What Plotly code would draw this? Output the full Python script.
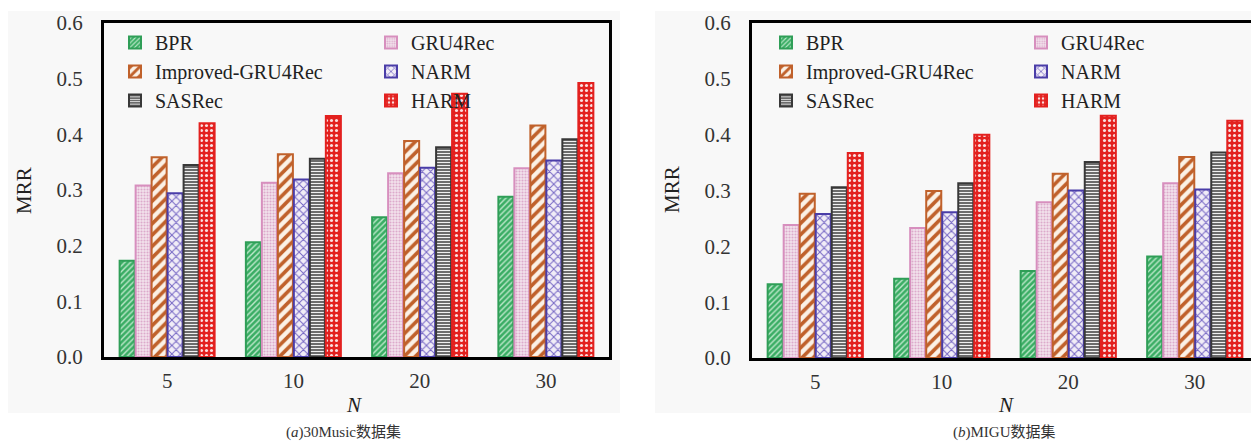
import plotly.graph_objects as go

categories = ["5", "10", "20", "30"]
methods = ["BPR", "GRU4Rec", "Improved-GRU4Rec", "NARM", "SASRec", "HARM"]

music_bpr = [0.173, 0.206, 0.251, 0.288]
music_gru = [0.308, 0.313, 0.330, 0.339]
music_imp = [0.359, 0.364, 0.388, 0.416]
music_narm = [0.294, 0.319, 0.340, 0.353]
music_sas = [0.345, 0.356, 0.377, 0.391]
music_harm = [0.420, 0.433, 0.473, 0.492]

migu_bpr = [0.132, 0.142, 0.156, 0.182]
migu_gru = [0.238, 0.233, 0.279, 0.313]
migu_imp = [0.294, 0.299, 0.330, 0.360]
migu_narm = [0.258, 0.261, 0.300, 0.302]
migu_sas = [0.306, 0.313, 0.351, 0.368]
migu_harm = [0.367, 0.400, 0.434, 0.425]

y_ticks = [0.0, 0.1, 0.2, 0.3, 0.4, 0.5, 0.6]

music = [music_bpr, music_gru, music_imp, music_narm, music_sas, music_harm]
migu = [migu_bpr, migu_gru, migu_imp, migu_narm, migu_sas, migu_harm]

styles = {
    "BPR": dict(line="#2f9e57", bg="#3aad64", fg="#bfe8cc", shape="/", size=4, sol=0.35),
    "GRU4Rec": dict(line="#d78fbe", bg="#f3e3ed", fg="#dcaacb", shape=".", size=3, sol=0.4),
    "Improved-GRU4Rec": dict(line="#c0612b", bg="#fbf1e6", fg="#c0612b", shape="/", size=8, sol=0.45),
    "NARM": dict(line="#4a3da8", bg="#f1edf7", fg="#7566c4", shape="x", size=6, sol=0.3),
    "SASRec": dict(line="#383838", bg="#505050", fg="#f0f0f0", shape="-", size=3, sol=0.45),
    "HARM": dict(line="#e3211f", bg="#e3211f", fg="#fbe0e0", shape=".", size=5, sol=0.3),
}

FONT = "Liberation Serif, Times New Roman, Noto Sans CJK SC, serif"

fig = go.Figure()

left_col = {"BPR", "Improved-GRU4Rec", "SASRec"}
for panel, data, xa, ya, lg_l, lg_r in [
    (0, music, "x", "y", "legend", "legend2"),
    (1, migu, "x2", "y2", "legend3", "legend4"),
]:
    for name, vals in zip(methods, data):
        s = styles[name]
        fig.add_trace(go.Bar(
            x=categories, y=vals, name=name,
            xaxis=xa, yaxis=ya,
            legend=lg_l if name in left_col else lg_r,
            marker=dict(
                color=s["bg"],
                line=dict(color=s["line"], width=2),
                pattern=dict(shape=s["shape"], fgcolor=s["fg"], bgcolor=s["bg"],
                             size=s["size"], solidity=s["sol"], fillmode="replace"),
            ),
            hoverinfo="x+y+name",
        ))

W, H = 1259, 443
OFF = 8  # page body offset compensation
def px_x(p):
    return (p - OFF) / W
def px_y(p):
    return 1 - (p - OFF) / H

axis_common = dict(showline=True, linecolor="black", linewidth=3, mirror=True,
                   showgrid=False, zeroline=False, ticks="", automargin=False,
                   tickfont=dict(family=FONT, size=21, color="#333333"))

legend_common = dict(orientation="v", bgcolor="rgba(0,0,0,0)",
                     font=dict(family=FONT, size=20, color="#222222"),
                     xanchor="left", yanchor="top", tracegroupgap=0,
                     itemwidth=30)

def ann(text, x, y, size=21, angle=0, color="#222222"):
    return dict(text=text, x=px_x(x), y=px_y(y), xref="paper", yref="paper",
                xanchor="center", yanchor="middle", textangle=angle,
                showarrow=False, font=dict(family=FONT, size=size, color=color))

fig.update_layout(
    width=W, height=H,
    margin=dict(l=0, r=0, t=0, b=0, autoexpand=False),
    paper_bgcolor="white",
    plot_bgcolor="rgba(0,0,0,0)",
    barmode="group",
    bargap=0.24,
    bargroupgap=0.06,
    xaxis=dict(domain=[px_x(104), px_x(609)], anchor="y", type="category",
               ticklabelstandoff=3, **axis_common),
    yaxis=dict(domain=[px_y(357), px_y(23)], anchor="x", range=[0, 0.6],
               tickvals=y_ticks, tickformat=".1f", ticklabelstandoff=14, **axis_common),
    xaxis2=dict(domain=[px_x(752), px_x(1258)], anchor="y2", type="category",
                ticklabelstandoff=3, **axis_common),
    yaxis2=dict(domain=[px_y(358), px_y(23)], anchor="x2", range=[0, 0.6],
                tickvals=y_ticks, tickformat=".1f", ticklabelstandoff=14, **axis_common),
    legend=dict(x=px_x(115), y=px_y(23), **legend_common),
    legend2=dict(x=px_x(371), y=px_y(23), **legend_common),
    legend3=dict(x=px_x(766), y=px_y(23), **legend_common),
    legend4=dict(x=px_x(1021), y=px_y(23), **legend_common),
    shapes=[
        dict(type="rect", xref="paper", yref="paper", x0=px_x(6), x1=px_x(620),
             y0=px_y(413), y1=px_y(11), fillcolor="#f8f8f8", line=dict(width=0), layer="below"),
        dict(type="rect", xref="paper", yref="paper", x0=px_x(655), x1=1,
             y0=px_y(413), y1=px_y(11), fillcolor="#f8f8f8", line=dict(width=0), layer="below"),
    ],
    annotations=[
        ann("MRR", 24, 190, angle=-90),
        ann("MRR", 672, 190, angle=-90),
        ann("<i>N</i>", 354, 405),
        ann("<i>N</i>", 1006, 405),
        ann("(<i>a</i>)30Music数据集", 344, 432, size=15, color="#333333"),
        ann("(<i>b</i>)MIGU数据集", 1004, 432, size=15, color="#333333"),
    ],
)

fig.write_html("out.html")
